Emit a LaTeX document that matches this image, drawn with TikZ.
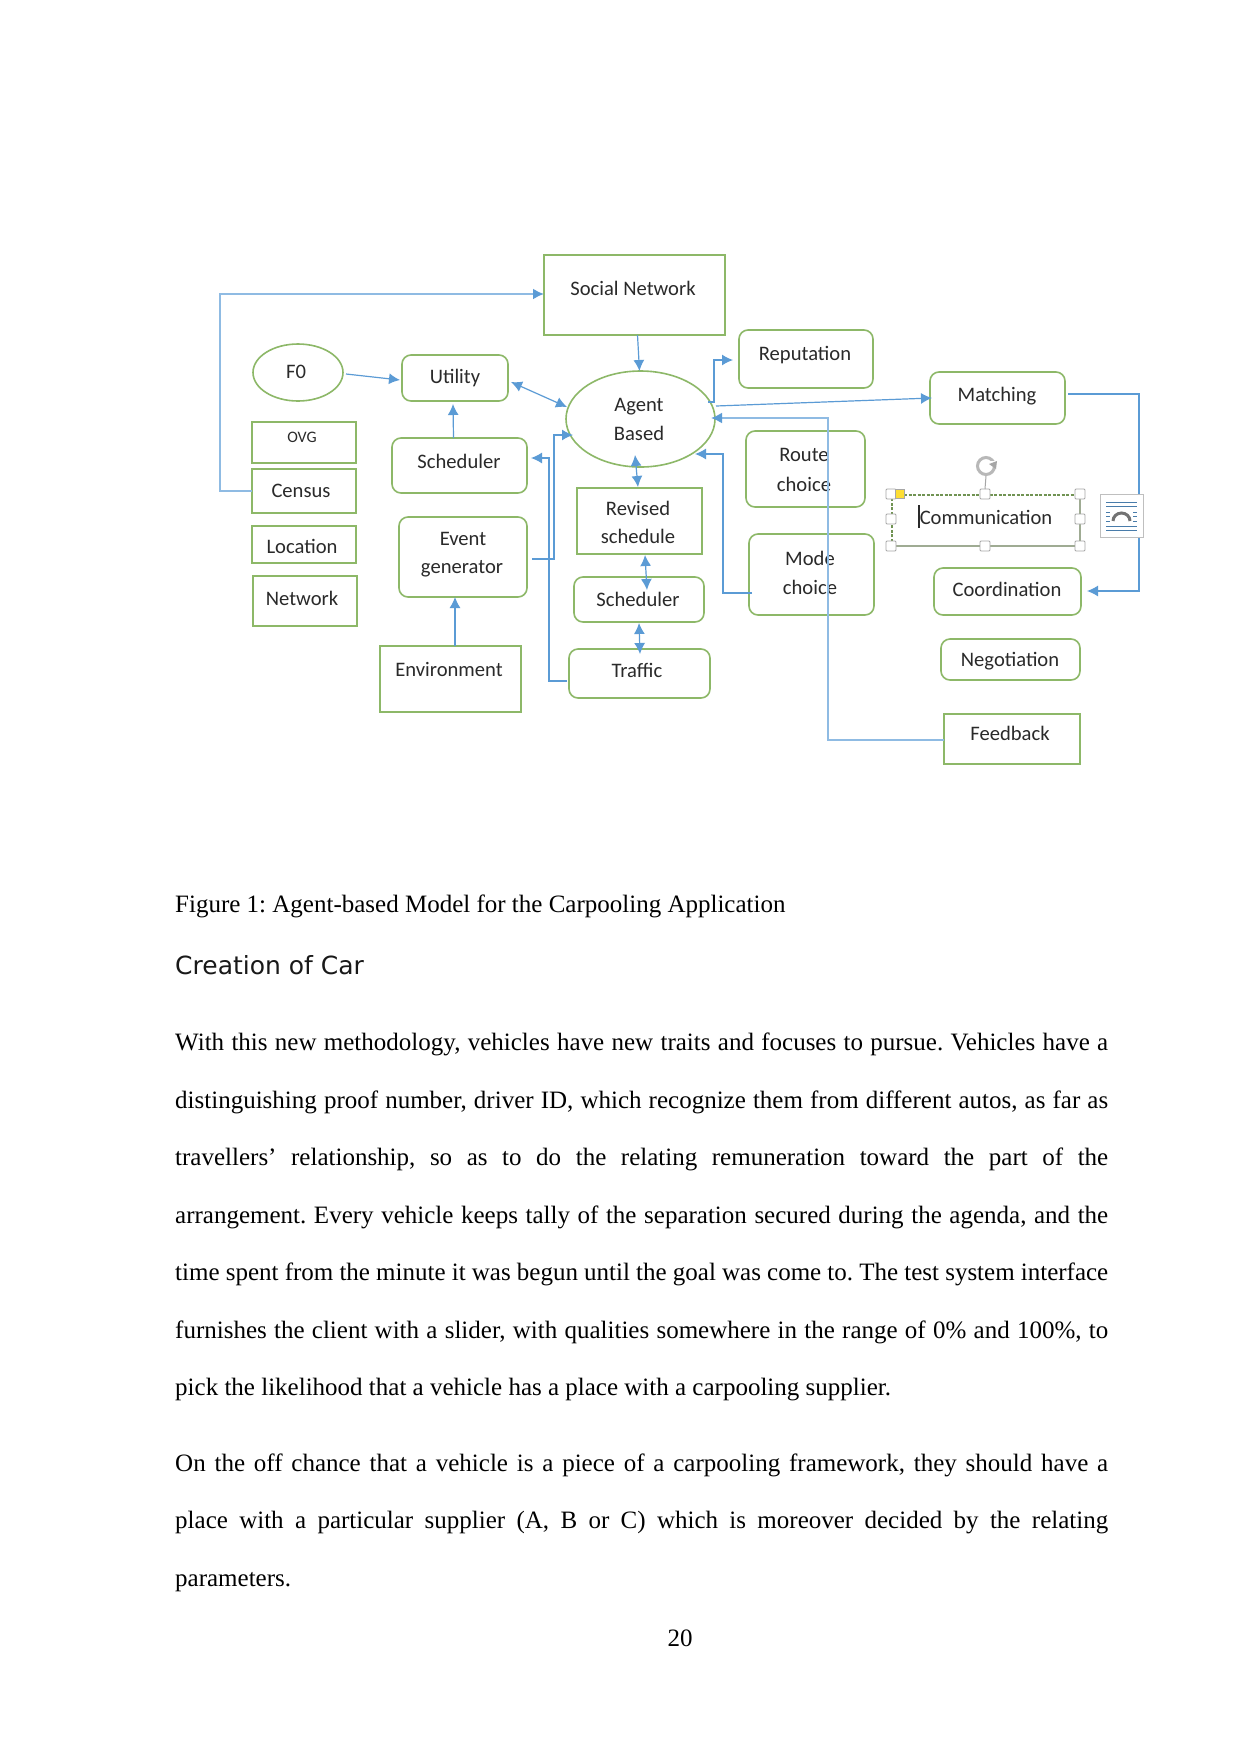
\documentclass[tikz,border=0pt]{standalone}
\usepackage{fontspec}
\setmainfont{Liberation Serif}
\newfontfamily\diagfont{Carlito}
\newfontfamily\headfont{DejaVu Sans}
\usetikzlibrary{arrows.meta,fit,shapes.geometric}
\definecolor{boxgreen}{HTML}{8DB868}
\definecolor{linkblue}{HTML}{5B9BD5}
\definecolor{palelink}{HTML}{8FBBE3}
\definecolor{handlegray}{HTML}{A6A6A6}
\definecolor{inkgray}{HTML}{2A2A2A}
\tikzset{
  x=1pt,y=-1pt,
  sq/.style={draw=boxgreen,line width=1.6pt,inner sep=0pt,outer sep=0pt},
  rd/.style={sq,rounded corners=9pt},
  el/.style={sq,ellipse},
  lbl/.style={font=\diagfont\fontsize{20.6}{20.6}\selectfont,text=inkgray,inner sep=0pt},
  tipb/.tip={Latex[length=11pt,width=11pt,color=linkblue]},
  link/.style={draw=linkblue,line width=1.2pt,-tipb},
  twoway/.style={draw=linkblue,line width=1.2pt,tipb-tipb},
  palelinkst/.style={draw=palelink,line width=2pt,-tipb},
  handle/.style={draw=handlegray,fill=white,line width=0.9pt,rounded corners=1pt,minimum size=10pt,inner sep=0pt,outer sep=0pt},
  para/.style={anchor=base west,inner sep=0pt,font=\fontsize{25}{25}\selectfont,text=black},
}
\newcommand{\nd}[6]{%
  \node[#2,fit={(#3)(#4)}] (#1) {};
  \node[lbl] (#1-t) at (#5) {#6};}
\newcommand{\jline}[3]{\node[para] (#1) at (175,#2) {\makebox[933pt][s]{#3}};}
\newcommand{\fline}[3]{\node[para] (#1) at (175,#2) {#3};}
\frenchspacing
\begin{document}
\begin{tikzpicture}
\useasboundingbox (0,0) rectangle (1241,1754);
\fill[white] (0,0) rectangle (1241,1754);

% boxes
\nd{social}{sq}{544,255}{725,335}{633,288}{Social Network}
\node[el,minimum width=90pt,minimum height=57pt] (fo) at (298,372.5) {};
\node[lbl] (fo-t) at (296,372) {F0};
\nd{utility}{rd}{402,355}{508,401}{455,378}{Utility}
\nd{ovg}{sq}{252,422}{356,463}{302,437}{\fontsize{16}{16}\selectfont OVG}
\nd{census}{sq}{252,469}{356,513}{301,491}{Census}
\nd{location}{sq}{252,526}{356,563}{302,546}{Location}
\nd{network}{sq}{253,576}{357,626}{302,598}{Network}
\nd{schedA}{rd}{392,438}{527,493}{459,461}{Scheduler}
\node[rd,fit={(399,517)(527,597)}] (event) {};
\node[lbl] (event-a) at (463,539) {Event};
\node[lbl] (event-b) at (462,569) {generator};
\nd{environ}{sq}{380,646}{521,712}{449,669}{Environment}
\node[el,minimum width=149pt,minimum height=96pt] (agent) at (640.5,419) {};
\node[lbl] (agent-a) at (639,407) {Agent};
\node[lbl] (agent-b) at (639,433) {Based};
\node[sq,fit={(577,488)(702,554)}] (revised) {};
\node[lbl] (revised-a) at (638,508) {Revised};
\node[lbl] (revised-b) at (638,536) {schedule};
\nd{schedB}{rd}{574,577}{704,622}{638,599}{Scheduler}
\nd{traffic}{rd}{569,649}{710,698}{637,670}{Traffic}
\nd{reput}{rd}{739,330}{873,388}{805,355}{Reputation}
\nd{matching}{rd}{930,372}{1065,424}{997,396}{Matching}
\node[rd,fit={(746,431)(865,507)}] (route) {};
\node[lbl] (route-a) at (804,455) {Route};
\node[lbl] (route-b) at (804,484) {choice};
\node[rd,fit={(749,534)(874,615)}] (mode) {};
\node[lbl] (mode-a) at (810,558) {Mode};
\node[lbl] (mode-b) at (810,587) {choice};
\nd{coord}{rd}{934,568}{1081,615}{1007,589}{Coordination}
\nd{negot}{rd}{941,639}{1080,680}{1010,661}{Negotiation}
\nd{feedback}{sq}{944,714}{1080,764}{1010,733}{Feedback}

% connectors
\coordinate (censusbend) at (220,491);
\coordinate (socialbend) at (220,294);
\draw[palelinkst] (census.west) -- (censusbend) -- (socialbend) -- (social.west |- socialbend);
\draw[link] ([xshift=3pt]social.south) -- ([xshift=-1pt]agent.north);
\coordinate (foout) at (346,374);
\coordinate (utilin) at (400,380);
\draw[link] (foout) -- (utilin);
\draw[link] ([xshift=-6pt]schedA.north) -- ([xshift=-2pt,yshift=-3pt]utility.south);
\coordinate (utilend) at (511,382);
\coordinate (agentw) at (567,407);
\draw[twoway] (utilend) -- (agentw);
% environment to event generator
\coordinate (envout) at (455,646);
\coordinate (eventin) at (455,597);
\draw[link] (envout) -- (eventin);
% event generator to agent
\coordinate (eventout) at (532,559);
\coordinate (eventbend) at (554,559);
\coordinate (eventup) at (554,435);
\coordinate (agentin) at (573,435);
\draw[link] (eventout) -- (eventbend) -- (eventup) -- (agentin);
% traffic to scheduler
\coordinate (trafout) at (567,681);
\coordinate (trafbend) at (549,681);
\coordinate (trafup) at (549,458);
\coordinate (schedin) at (531,458);
\draw[link] (trafout) -- (trafbend) -- (trafup) -- (schedin);
\coordinate (agents) at (635,455);
\coordinate (revn) at (638,487);
\draw[twoway] (agents) -- (revn);
\coordinate (revs) at (645,555);
\coordinate (schedBn) at (647,590);
\draw[twoway] (revs) -- (schedBn);
\coordinate (schedBs) at (639,623);
\coordinate (trafn) at (640,654);
\draw[twoway] (schedBs) -- (trafn);
% agent to reputation
\coordinate (agentne) at (708,402);
\coordinate (repbend) at (714,402);
\coordinate (repup) at (714,360);
\coordinate (repin) at (733,360);
\draw[link] (agentne) -- (repbend) -- (repup) -- (repin);
% agent to matching
\coordinate (agentout) at (716,406);
\coordinate (matchin) at (932,398);
\draw[link] (agentout) -- (matchin);
% feedback to agent
\coordinate (fbbend) at (828,740);
\coordinate (fbup) at (828,418);
\coordinate (agente) at (711,418);
\draw[palelinkst] (feedback.west |- fbbend) -- (fbbend) -- (fbup) -- (agente);
% mode to agent
\coordinate (modeout) at (752,593);
\coordinate (modebend) at (723,593);
\coordinate (modeup) at (723,454);
\coordinate (agentse) at (695,454);
\draw[link] (modeout) -- (modebend) -- (modeup) -- (agentse);
% matching to coordination
\coordinate (matchout) at (1068,394);
\coordinate (rightup) at (1139,394);
\coordinate (rightdn) at (1139,591);
\coordinate (coordin) at (1087,591);
\draw[link] (matchout) -- (rightup) -- (rightdn) -- (coordin);

% selected text box
\node[inner sep=0pt,outer sep=0pt,fit={(892,495)(1080,546)}] (comm) {};
\draw[boxgreen!80!black,line width=1.6pt,dash pattern=on 3pt off 1.5pt] (comm.south west) -- (comm.north west) -- (comm.north east);
\draw[handlegray!70!boxgreen,line width=1.4pt] (comm.north east) -- (comm.south east) -- (comm.south west);
\node[lbl] (comm-t) at (986,517) {Communication};
\coordinate (cursortop) at (919,505);
\coordinate (cursorbot) at (919,528);
\draw[inkgray,line width=1.1pt] (cursortop) -- (cursorbot);
\foreach \nm/\px/\py in {h1/891/494,h2/985/494,h3/1080/494,h4/891/519,h5/1080/519,h6/891/546,h7/985/546,h8/1080/546}
  \node[handle] (\nm) at (\px,\py) {};
\node[draw=handlegray,fill=yellow!75!orange!80,line width=0.7pt,minimum size=9pt,inner sep=0pt] (hy) at (900,494) {};
\node[circle,draw=handlegray!80,line width=3pt,minimum size=17pt,inner sep=0pt] (rot) at (986,466) {};
\draw[handlegray,line width=1pt] (rot.south) -- (h2.north);
\fill[white] (991,461) rectangle (997,467);
\fill[handlegray] (989,464) -- (997,461) -- (996,469) -- cycle;

% layout icon
\node[draw=black!25,fill=white,line width=1pt,inner sep=0pt,outer sep=0pt,fit={(1100,494)(1143,537)}] (icon) {};
\foreach \yy in {502,506,526,530}
  \draw[linkblue!80!black,line width=1pt] (1106,\yy) -- (1137,\yy);
\foreach \yy in {512,516,521}{
  \draw[linkblue!80!black,line width=1pt] (1106,\yy) -- (1110,\yy);
  \draw[linkblue!80!black,line width=1pt] (1133,\yy) -- (1137,\yy);}
\draw[black!55,line width=3pt] (1113,521) arc[start angle=180,end angle=0,x radius=8.5pt,y radius=8pt];

% page text
\fline{cap}{912}{Figure 1: Agent-based Model for the Carpooling Application}
\node[anchor=base west,inner sep=0pt,font=\headfont\fontsize{25}{25}\selectfont,text=black!90] (head) at (175,974) {Creation of Car};
\jline{p1}{1050}{With this new methodology, vehicles have new traits and focuses to pursue. Vehicles have a}
\jline{p2}{1108}{distinguishing proof number, driver ID, which recognize them from different autos, as far as}
\jline{p3}{1165}{travellers’ relationship, so as to do the relating remuneration toward the part of the}
\jline{p4}{1223}{arrangement. Every vehicle keeps tally of the separation secured during the agenda, and the}
\jline{p5}{1280}{time spent from the minute it was begun until the goal was come to. The test system interface}
\jline{p6}{1338}{furnishes the client with a slider, with qualities somewhere in the range of 0\% and 100\%, to}
\fline{p7}{1395}{pick the likelihood that a vehicle has a place with a carpooling supplier.}
\jline{q1}{1471}{On the off chance that a vehicle is a piece of a carpooling framework, they should have a}
\jline{q2}{1528}{place with a particular supplier (A, B or C) which is moreover decided by the relating}
\fline{q3}{1586}{parameters.}
\node[para,anchor=base] (pg) at (680,1646) {20};
\end{tikzpicture}
\end{document}
